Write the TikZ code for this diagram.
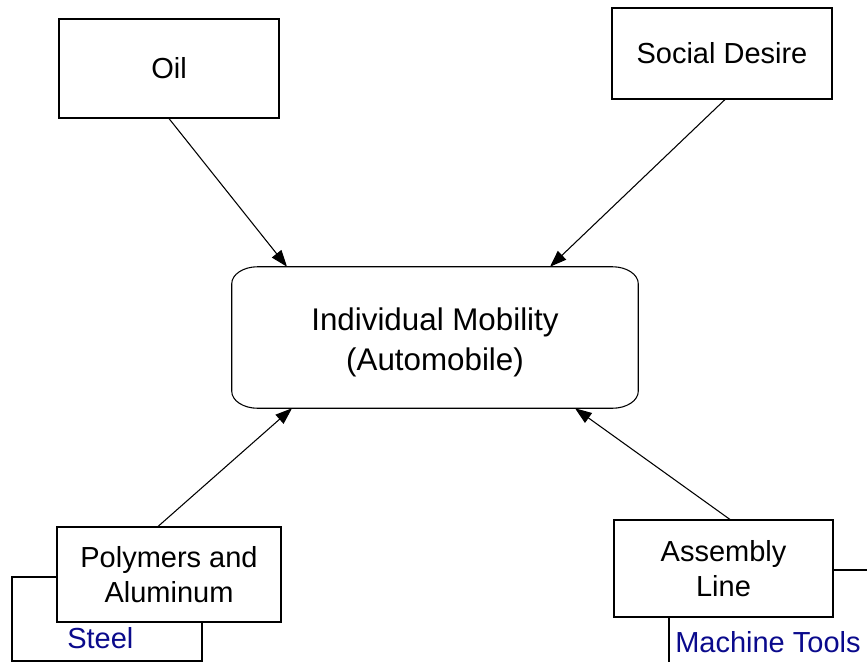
\documentclass[tikz,border=0pt]{standalone}
\usepackage{fontspec}
\setmainfont{Liberation Sans}
\usetikzlibrary{arrows.meta,calc}
\definecolor{labelblue}{RGB}{10,10,140}
\begin{document}
\begin{tikzpicture}[x=0.75pt,y=-0.75pt,
  box/.style={draw=black,line width=0.8pt,fill=white,inner sep=0pt,align=center,
    font=\fontsize{21.75pt}{26.25pt}\selectfont},
  mainbox/.style={draw=none,inner sep=0pt,align=center,
    font=\fontsize{23.5pt}{30pt}\selectfont},
  outline/.style={draw=black,line width=0.8pt},
  conn/.style={line width=0.8pt,-{Triangle[length=12.5pt,width=9pt]}},
  plain/.style={line width=0.8pt},
  tag/.style={text=labelblue,inner sep=0pt,font=\fontsize{21.75pt}{26.25pt}\selectfont}]
\useasboundingbox (0,0) rectangle (867,662);
% boxes
\node[box,minimum width=165pt,minimum height=74.25pt] (oil) at (169,68.5) {Oil};
\node[box,minimum width=165pt,minimum height=68.25pt] (social) at (722,53.5) {Social Desire};
\node[mainbox,minimum width=304.5pt,minimum height=105.75pt] (mob) at (435,337.5) {};
\node[mainbox] (mobtext) at (435,342) {Individual Mobility\\(Automobile)};
\draw[outline] ($(mob.north west)+(26,0)$) -- ($(mob.north east)+(-26,0)$)
  arc[start angle=90,end angle=0,x radius=19.5pt,y radius=12.75pt]
  -- ($(mob.south east)+(0,-17)$)
  arc[start angle=0,end angle=-90,x radius=19.5pt,y radius=12.75pt]
  -- ($(mob.south west)+(26,0)$)
  arc[start angle=-90,end angle=-180,x radius=19.5pt,y radius=12.75pt]
  -- ($(mob.north west)+(0,17)$)
  arc[start angle=180,end angle=90,x radius=19.5pt,y radius=12.75pt] -- cycle;
\node[box,minimum width=142.5pt,minimum height=63pt] (steel) at (107,619) {};
\node[tag,anchor=base west] (steellabel) at (67,648) {Steel};
\node[box,minimum width=168pt,minimum height=71.25pt] (poly) at (169,574.5) {Polymers and\\Aluminum};
\node[box,minimum width=164.25pt,minimum height=72.75pt] (assy) at (723.5,568.5) {Assembly\\Line};
\node[tag,anchor=base west] (mtlabel) at (675,652) {Machine Tools};
% connectors
\draw[conn] (oil.south) -- ($(mob.north)+(-148,0)$);
\draw[conn] ($(social.south)+(3,0)$) -- ($(mob.north)+(115,0)$);
\draw[conn] ($(poly.north)+(-11,0)$) -- ($(mob.south)+(-143,0)$);
\draw[conn] ($(assy.north)+(6.5,0)$) -- ($(mob.south)+(140,0)$);
% free lines
\coordinate (rightend) at (867,570);
\coordinate (bottomend) at (669,662);
\draw[plain] (assy.east |- rightend) -- (rightend);
\draw[plain] (assy.south -| bottomend) -- (bottomend);
\end{tikzpicture}
\end{document}
